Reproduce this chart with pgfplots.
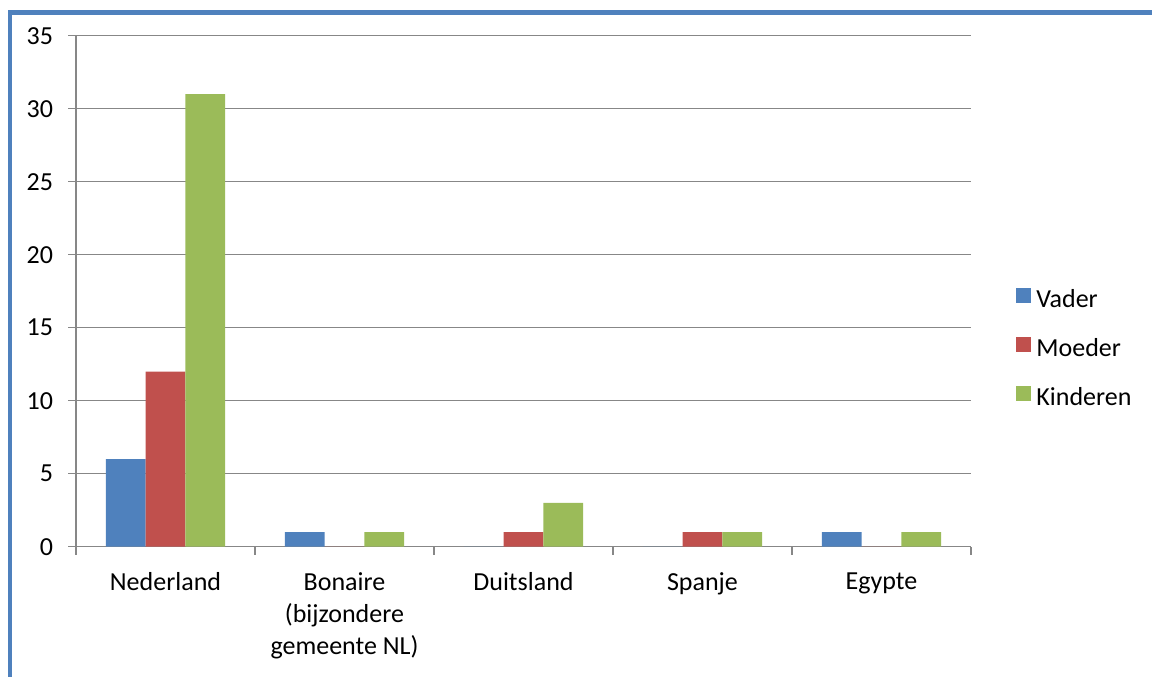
\documentclass[border=0pt]{standalone}
\usepackage{pgfplots}
\pgfplotsset{compat=1.18}
\usepackage{fontspec}
\setmainfont{Carlito}
\definecolor{cblue}{HTML}{4F81BD}
\definecolor{cred}{HTML}{C0504D}
\definecolor{cgreen}{HTML}{9BBB59}
\definecolor{cgrid}{HTML}{878787}
\begin{document}
\begin{tikzpicture}
\useasboundingbox (0,0) rectangle (576bp,338.5bp);
\begin{axis}[
  at={(38bp,65.15bp)}, anchor=south west,
  scale only axis, width=447.5bp, height=255.5bp,
  xmin=-0.5, xmax=4.5, ymin=0, ymax=35,
  axis x line*=bottom, axis y line*=left,
  axis line style={cgrid, line width=0.75bp},
  every outer x axis line/.append style={-}, every outer y axis line/.append style={-},
  ybar=0pt, bar width=19.85bp,
  ytick={0,5,...,35},
  ymajorgrids, grid style={cgrid, line width=0.75bp},
  xtick={0,1,2,3,4},
  xticklabels={Nederland, Bonaire\\(bijzondere\\gemeente NL), Duitsland, Spanje, Egypte},
  minor xtick={-0.5,0.5,1.5,2.5,3.5,4.5},
  major x tick style={draw=none},
  minor x tick style={cgrid, line width=0.75bp},
  y tick style={cgrid, line width=0.75bp},
  tick align=outside, major tick length=4bp, minor tick length=4bp,
  /pgf/number format/assume math mode=true,
  tick label style={font=\fontsize{13bp}{16bp}\selectfont, text=black},
  xticklabel style={align=center, anchor=north, yshift=-5.5bp},
  yticklabel style={xshift=-4bp},
  legend style={draw=none, fill=none, at={(1,0.391)}, anchor=west, xshift=19.5bp, yshift=-2bp,
    font=\fontsize{13bp}{16bp}\selectfont, row sep=9.5bp,
    nodes={inner sep=1.5bp, text height=9bp, text depth=3bp},
    /tikz/every odd column/.append style={column sep=1bp}},
  legend cell align=left,
  legend image code/.code={\path[#1, draw=none] (0bp,-0.5bp) rectangle (7.5bp,7bp);},
]
\addplot[fill=cblue, draw=none] coordinates {(0,6) (1,1) (2,0) (3,0) (4,1)};
\addplot[fill=cred, draw=none] coordinates {(0,12) (1,0) (2,1) (3,1) (4,0)};
\addplot[fill=cgreen, draw=none] coordinates {(0,31) (1,1) (2,3) (3,1) (4,1)};
\legend{Vader, Moeder, Kinderen}
\end{axis}
\draw[cblue, line width=2.2bp] (4.9bp,0) -- (4.9bp,332.25bp) -- (576bp,332.25bp);
\end{tikzpicture}
\end{document}
